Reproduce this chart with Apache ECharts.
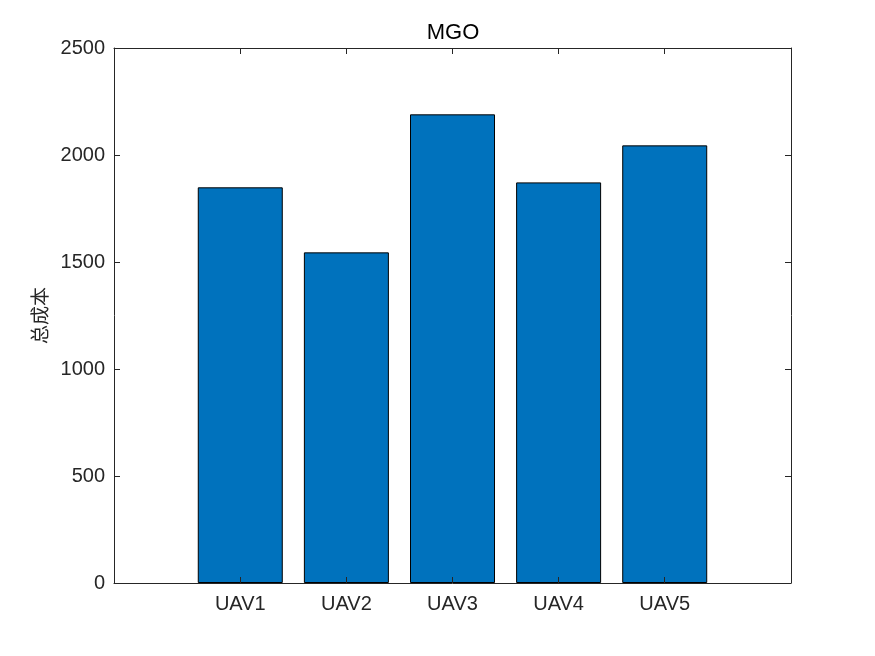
<!DOCTYPE html>
<html>
<head>
<meta charset="utf-8">
<script src="https://cdn.jsdelivr.net/npm/echarts@6/dist/echarts.min.js"></script>
<style>
	html, body { margin: 0; padding: 0; background: #fff; }
	#chart { width: 875px; height: 656px; }
</style>
</head>
<body>
<div id="chart"></div>
<script>
	// 类别与数值
	let categories = ['UAV1', 'UAV2', 'UAV3', 'UAV4', 'UAV5'];
	let positions = [1, 2, 3, 4, 5];
	let totalCost = [1849, 1545, 2190, 1872, 2045];
	let yTicks = [0, 500, 1000, 1500, 2000, 2500];

	let chart = echarts.init(document.getElementById('chart'));
	let font = 'Liberation Sans, Arial, Helvetica, sans-serif';
	let ink = '#262626';

	let xBase = {
		type: 'value',
		min: -0.19,
		max: 6.19,
		z: 5,
		splitLine: { show: false },
		axisLine: { show: true, onZero: false, lineStyle: { color: ink, width: 1 } },
		axisTick: { show: true, inside: true, length: 6, customValues: positions, lineStyle: { color: ink } }
	};
	let yBase = {
		type: 'value',
		min: yTicks[0],
		max: yTicks[yTicks.length - 1],
		interval: 500,
		z: 5,
		splitLine: { show: false },
		axisLine: { show: true, onZero: false, lineStyle: { color: ink, width: 1 } },
		axisTick: { show: true, inside: true, length: 6, lineStyle: { color: ink } }
	};

	let option = {
		animation: false,
		backgroundColor: '#fff',
		title: {
			text: 'MGO',
			left: 453,
			top: 22,
			padding: 0,
			textAlign: 'center',
			textStyle: { fontFamily: font, fontSize: 22, fontWeight: 'normal', color: '#000' }
		},
		grid: { left: 114, right: 84, top: 48, bottom: 73, containLabel: false },
		xAxis: [
			Object.assign({}, xBase, {
				position: 'bottom',
				axisLabel: {
					show: true,
					customValues: positions,
					margin: 11,
					fontFamily: font,
					fontSize: 20,
					color: ink,
					formatter: function (v) { return categories[Math.round(v) - 1] || ''; }
				}
			}),
			Object.assign({}, xBase, {
				position: 'top',
				axisLabel: { show: false }
			})
		],
		yAxis: [
			Object.assign({}, yBase, {
				position: 'left',
				name: '总成本',
				nameLocation: 'middle',
				nameGap: 48,
				nameTextStyle: { fontFamily: 'Noto Sans CJK SC', fontSize: 19, color: ink },
				axisLabel: {
					show: true, margin: 9, fontFamily: font, fontSize: 20, color: ink,
					formatter: function (v) { return String(v); }
				}
			}),
			Object.assign({}, yBase, {
				position: 'right',
				axisLabel: { show: false }
			})
		],
		series: [{
			type: 'bar',
			xAxisIndex: 0,
			yAxisIndex: 0,
			barWidth: 85,
			data: positions.map(function (p, i) { return [p, totalCost[i]]; }),
			itemStyle: { color: '#0072BD', borderColor: '#000', borderWidth: 1 }
		}]
	};
	chart.setOption(option);
</script>
</body>
</html>
